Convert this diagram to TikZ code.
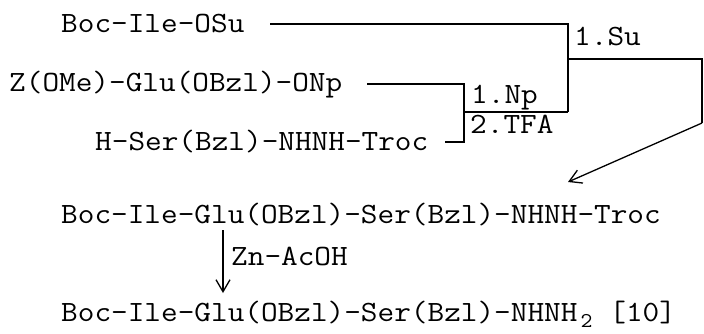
\documentclass[tikz,border=0pt]{standalone}
\usepackage{fontspec}
\setmonofont{Latin Modern Mono}[FakeStretch=1.1]
\usetikzlibrary{arrows.meta}
\begin{document}
\begin{tikzpicture}[x=1pt,y=-1pt,
  chem/.style={font=\ttfamily\fontsize{29.4}{30}\selectfont, inner sep=0pt, anchor=base west},
  conn/.style={line width=1.3pt},
  barb/.style={-{Straight Barb[length=12pt,width=14pt,line width=1.3pt]}}
]
\useasboundingbox (0,0) rectangle (704,333);
% compounds
\node[chem] (osu) at (61,32) {Boc-Ile-OSu};
\node[chem] (onp) at (9,91) {Z(OMe)-Glu(OBzl)-ONp};
\node[chem] (ser) at (95,150) {H-Ser(Bzl)-NHNH-Troc};
\node[chem] (prot) at (61,223) {Boc-Ile-Glu(OBzl)-Ser(Bzl)-NHNH-Troc};
\node[chem] (prod) at (61,321) {Boc-Ile-Glu(OBzl)-Ser(Bzl)-NHNH\hspace{3pt}\raisebox{-6pt}{\fontsize{21}{21}\selectfont 2}\hspace{17pt}[10]};
% labels
\node[chem] (lsu) at (574,45) {1.Su};
\node[chem] (lnp) at (471,103) {1.Np};
\node[chem] (ltfa) at (470,133) {2.TFA};
\node[chem] (lzn) at (231,265) {Zn-AcOH};
% coordinates
\coordinate (a1) at (270,24);
\coordinate (a2) at (568,24);
\coordinate (b1) at (367,84);
\coordinate (b2) at (464,84);
\coordinate (b3) at (464,142);
\coordinate (b4) at (445,142);
\coordinate (bm) at (464,112);
\coordinate (a3) at (568,112);
\coordinate (am) at (568,59);
\coordinate (c1) at (702,59);
\coordinate (c2) at (702,123);
\coordinate (c3) at (568,182);
\coordinate (z1) at (223,230);
\coordinate (z2) at (223,293);
% connectors
\draw[conn] (a1) -- (a2) -- (a3);
\draw[conn] (b1) -- (b2) -- (b3) -- (b4);
\draw[conn] (bm) -- (a3);
\draw[conn] (am) -- (c1) -- (c2);
\draw[conn,barb] (c2) -- (c3);
\draw[conn,barb] (z1) -- (z2);
\end{tikzpicture}
\end{document}
